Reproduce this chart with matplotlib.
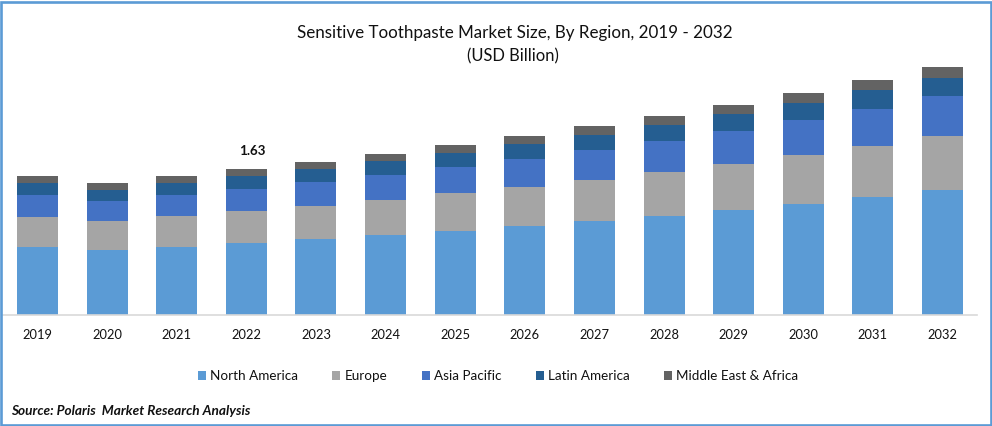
""" Sensitive toothpaste market size stacked bars
"""

import matplotlib
matplotlib.use('Agg')
import matplotlib.pyplot as plt
from matplotlib.patches import Rectangle
import numpy as np

years = ['2019', '2020', '2021', '2022', '2023', '2024', '2025', '2026',
         '2027', '2028', '2029', '2030', '2031', '2032']
north_america = [.759, .726, .759, .804, .848, .893, .938, .994, 1.049, 1.105,
                 1.172, 1.239, 1.317, 1.396]
europe = [.335, .324, .346, .357, .368, .391, .424, .435, .458, .491, .514,
          .547, .569, .603]
asia_pacific = [.246, .223, .234, .246, .268, .279, .290, .313, .335, .346,
                .368, .391, .413, .447]
latin_america = [.134, .123, .134, .145, .145, .156, .156, .167, .167, .179,
                 .190, .190, .212, .201]
middle_east = [.078, .078, .078, .078, .078, .078, .089, .089, .100, .100,
               .100, .112, .112, .123]

names = ['North America', 'Europe', 'Asia Pacific', 'Latin America',
         'Middle East & Africa']
colors = ['#5B9BD5', '#A5A5A5', '#4472C4', '#255E91', '#636363']
series = [north_america, europe, asia_pacific, latin_america, middle_east]

W, H = 992, 426
plt.rcParams['font.family'] = ['Lato', 'DejaVu Sans']

fig = plt.figure(figsize=(W / 100, H / 100), dpi=100)
ax = fig.add_axes([2.7 / W, (H - 315) / H, 974.6 / W, 268.7 / H])

ind = np.arange(len(years))
bottom = np.zeros(len(years))
for name, vals, color in zip(names, series, colors):
    ax.bar(ind, vals, 0.589, bottom=bottom, color=color, label=name)
    bottom += np.array(vals)

ax.set_xlim(-0.5, 13.5)
ax.set_ylim(0, 3.0)
ax.set_yticks([])
ax.set_xticks(ind)
ax.set_xticklabels(years, fontsize=9.3, color='#111111')
ax.tick_params(axis='x', length=0, pad=10.2)
for side in ['top', 'left', 'right']:
    ax.spines[side].set_visible(False)
ax.spines['bottom'].set_color('#D9D9D9')
ax.spines['bottom'].set_linewidth(1.2)

# only 2022 gets a label in the original
ax.annotate('1.63', (3, bottom[3]), xytext=(6, 12), textcoords='offset pixels',
            ha='center', va='bottom', fontsize=9.6, fontweight='bold',
            color='#111111')

fig.text(514.5 / W, 1 - 33 / H, 'Sensitive Toothpaste Market Size, By Region, 2019 - 2032',
         ha='center', va='center', fontsize=12.25, color='#111111')
fig.text(513 / W, 1 - 56 / H, '(USD Billion)', ha='center', va='center',
         fontsize=11.9, color='#111111')

fig.legend(loc='center', bbox_to_anchor=(498 / W, 1 - 376 / H), ncol=5,
           frameon=False, fontsize=9.7, handlelength=0.6, handleheight=0.6,
           handletextpad=0.3, columnspacing=2.55, labelcolor='#111111')

fig.text(11 / W, 1 - 411 / H, 'Source: Polaris  Market Research Analysis',
         ha='left', va='center', fontsize=9.85, fontweight='bold',
         fontstyle='italic', color='#111111')

# blue frame round the picture
fig.add_artist(Rectangle((1 / W, 1.5 / H), (W - 2.5) / W, (H - 3) / H,
                         transform=fig.transFigure, fill=False,
                         edgecolor='#5B9BD5', linewidth=1.9))

fig.savefig('out.png', dpi=100)
